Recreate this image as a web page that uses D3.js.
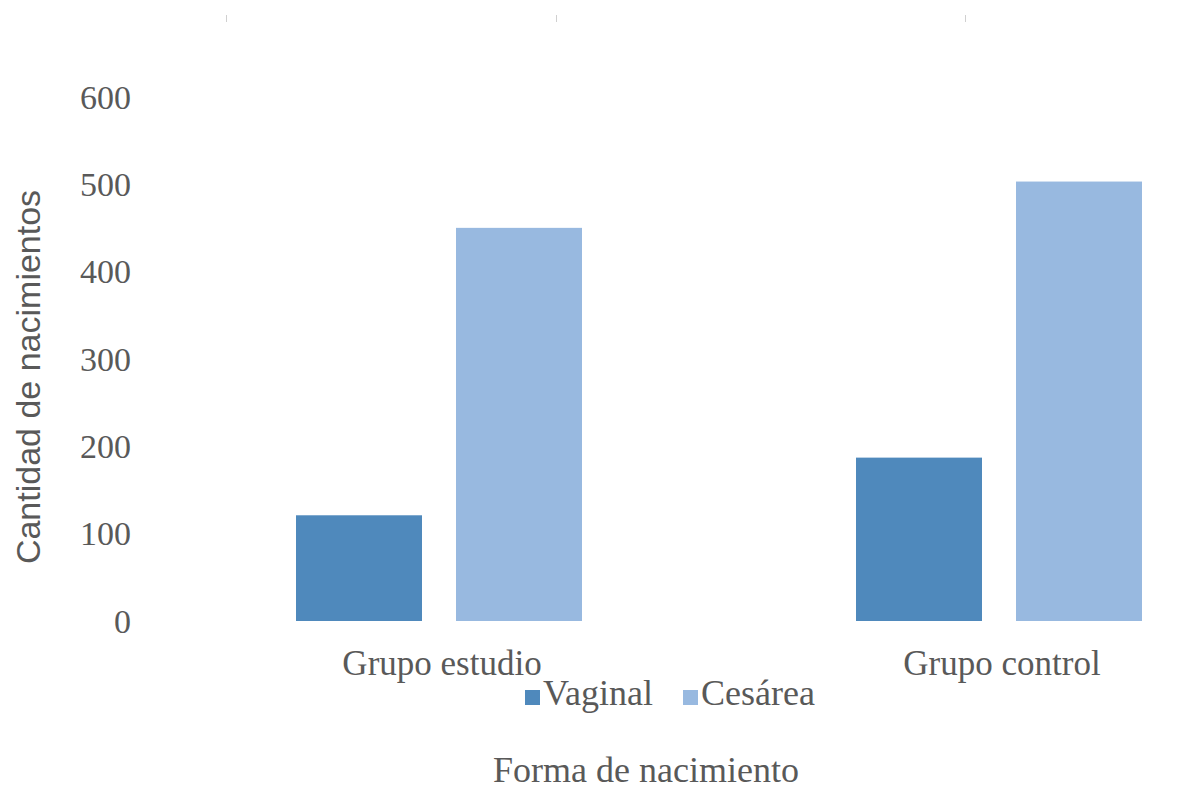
<!DOCTYPE html>
<html>
<head>
<meta charset="utf-8">
<script src="https://cdn.jsdelivr.net/npm/d3@7"></script>
<style>
  html, body { margin: 0; padding: 0; background: #ffffff; }
  svg { display: block; }
</style>
</head>
<body>
<svg id="chart" width="1188" height="789"></svg>
<script>
// Births by delivery type in each group
const groups = ["Grupo estudio", "Grupo control"];
const series = ["Vaginal", "Cesárea"];
const vaginal = [121, 187];
const cesarea = [450, 503];
const yTicks = [0, 100, 200, 300, 400, 500, 600];
const seriesColors = ["#4f89bc", "#98b9e0"];
const topMarks = [226, 556, 965];

const textColor = "#595959";
const serif = "'Liberation Serif', 'Times New Roman', serif";
const sans = "'Liberation Sans', Arial, sans-serif";

const svg = d3.select("#chart");

// y scale: 0 at the baseline, 600 at the top tick
const y = d3.scaleLinear().domain([0, 600]).range([621, 96.8]);

// outer band per group, inner band per series
const x0 = d3.scaleBand().domain(groups)
  .range([159, 1279])
  .paddingInner(1 - 286 / 560)
  .paddingOuter((1 - 286 / 560) / 2);
const x1 = d3.scaleBand().domain(series)
  .range([0, x0.bandwidth()])
  .paddingInner(0.2125)
  .paddingOuter(0);

const rows = groups.map((g, i) => ({ group: g, values: [vaginal[i], cesarea[i]] }));

// small marks along the top edge
svg.append("g").selectAll("line").data(topMarks).join("line")
  .attr("x1", d => d + 0.5).attr("x2", d => d + 0.5)
  .attr("y1", 15).attr("y2", 22)
  .attr("stroke", "#d0d0d0").attr("stroke-width", 1);

// bars
svg.append("g").selectAll("g").data(rows).join("g")
  .attr("transform", d => `translate(${x0(d.group)},0)`)
  .selectAll("rect")
  .data(d => d.values.map((v, j) => ({ key: series[j], value: v, idx: j })))
  .join("rect")
  .attr("x", d => x1(d.key))
  .attr("width", x1.bandwidth())
  .attr("y", d => y(d.value))
  .attr("height", d => y(0) - y(d.value))
  .attr("fill", d => seriesColors[d.idx]);

// y axis tick labels (no axis line)
const yAxis = d3.axisLeft(y).tickValues(yTicks).tickSize(0).tickPadding(0);
const gy = svg.append("g").attr("transform", "translate(131,0)").call(yAxis);
gy.select(".domain").remove();
gy.selectAll("text")
  .attr("fill", textColor)
  .style("font-family", serif)
  .style("font-size", "34px")
  .attr("dy", "0.33em");

// category labels
const xAxis = d3.axisBottom(x0).tickSize(0).tickPadding(0);
const gx = svg.append("g").attr("transform", "translate(3,650)").call(xAxis);
gx.select(".domain").remove();
gx.selectAll("text")
  .attr("fill", textColor)
  .style("font-family", serif)
  .style("font-size", "35px")
  .attr("dy", "0.71em");

// axis titles
svg.append("text")
  .attr("transform", "translate(40,377) rotate(-90)")
  .attr("text-anchor", "middle")
  .attr("fill", textColor)
  .style("font-family", sans)
  .style("font-size", "34px")
  .text("Cantidad de nacimientos");

svg.append("text")
  .attr("x", 646).attr("y", 782)
  .attr("text-anchor", "middle")
  .attr("fill", textColor)
  .style("font-family", serif)
  .style("font-size", "36px")
  .text("Forma de nacimiento");

// legend
const legendX = [525, 683];
const legend = svg.append("g").selectAll("g").data(series).join("g")
  .attr("transform", (d, i) => `translate(${legendX[i]},690)`);
legend.append("rect")
  .attr("width", 15).attr("height", 15)
  .attr("fill", (d, i) => seriesColors[i]);
legend.append("text")
  .attr("x", 18).attr("y", 15)
  .attr("fill", textColor)
  .style("font-family", serif)
  .style("font-size", "36px")
  .text(d => d);
</script>
</body>
</html>
